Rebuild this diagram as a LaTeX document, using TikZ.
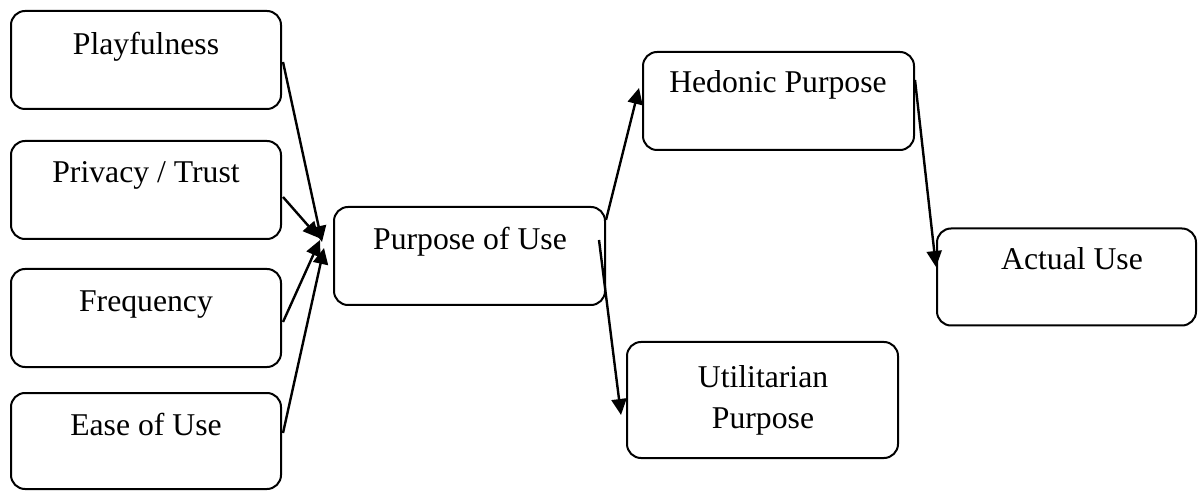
\documentclass[tikz,border=0pt]{standalone}
\usepackage{fontspec}
\setmainfont{Liberation Serif}
\usetikzlibrary{arrows.meta,calc}
\begin{document}
\begin{tikzpicture}[x=0.5pt,y=-0.5pt,
  box/.style={draw, line width=1pt, rounded corners=7pt, inner sep=0pt, minimum width=135pt, minimum height=49pt},
  lbl/.style={anchor=base, inner sep=0pt, font=\fontsize{15.85}{21.5}\selectfont},
  arr/.style={line width=1.2pt, -{Triangle[length=8pt,width=7.5pt]}}]
\useasboundingbox (0,0) rectangle (1198,491);
% boxes
\node[box] (play) at (146,60) {};
\node[box] (priv) at (146,190) {};
\node[box] (freq) at (146,318) {};
\node[box, minimum height=48pt] (ease) at (146,441) {};
\node[box, minimum width=135.5pt] (purp) at (469.5,256) {};
\node[box, minimum width=135.5pt] (hed) at (778.5,101) {};
\node[box, minimum width=135.5pt, minimum height=58pt] (util) at (762.5,400) {};
\node[box, minimum width=129.5pt, minimum height=48.5pt] (act) at (1066.5,277) {};
% labels
\node[lbl] (tplay) at (146,55) {Playfulness};
\node[lbl] (tpriv) at (146,183) {Privacy / Trust};
\node[lbl] (tfreq) at (146,312) {Frequency};
\node[lbl] (tease) at (146,435) {Ease of Use};
\node[lbl] (tpurp) at (470,250) {Purpose of Use};
\node[lbl] (thed) at (778,93) {Hedonic Purpose};
\node[lbl] (tutil1) at (763,387) {Utilitarian};
\node[lbl] (tutil2) at (763,428) {Purpose};
\node[lbl] (tact) at (1072,270) {Actual Use};
% connectors
\draw[arr] ($(play.east)+(1,2)$) -- ($(purp.west)+(-11,-14)$);
\draw[arr] ($(priv.east)+(1,7)$) -- ($(purp.west)+(-14,-18)$);
\draw[arr] ($(freq.east)+(1,4)$) -- ($(purp.west)+(-13,-16)$);
\draw[arr] ($(ease.east)+(1,-8)$) -- ($(purp.west)+(-9,-8)$);
\draw[arr] ($(purp.east)+(0,-36)$) -- ($(hed.west)+(-3,-13)$);
\draw[arr] ($(purp.east)+(-7,-16)$) -- ($(util.west)+(-5,15)$);
\draw[arr] ($(hed.east)+(0,-21)$) -- ($(act.west)+(0,-10)$);
\end{tikzpicture}
\end{document}
